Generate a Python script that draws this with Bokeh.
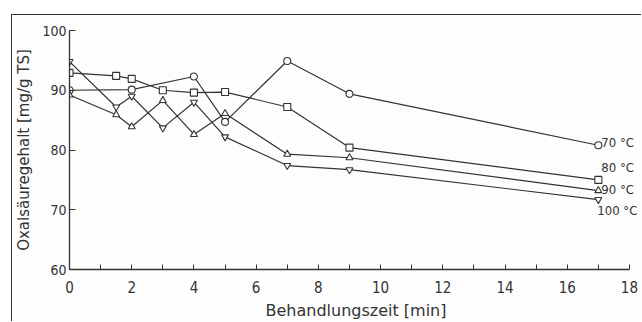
from bokeh.plotting import figure
from bokeh.models import Range1d, FixedTicker, ColumnDataSource
from bokeh.core.properties import value
from bokeh.embed import file_html
from bokeh.resources import INLINE

# ---- data ----
x_70 = [0, 2, 4, 5, 7, 9, 17]
y_70 = [90.0, 90.1, 92.3, 84.7, 94.9, 89.4, 80.8]

x_80 = [0, 1.5, 2, 3, 4, 5, 7, 9, 17]
y_80 = [92.9, 92.4, 91.9, 90.0, 89.6, 89.7, 87.2, 80.4, 75.0]

x_90 = [0, 1.5, 2, 3, 4, 5, 7, 9, 17]
y_90 = [89.2, 85.9, 83.9, 88.3, 82.6, 86.1, 79.3, 78.7, 73.2]

x_100 = [0, 1.5, 2, 3, 4, 5, 7, 9, 17]
y_100 = [94.8, 87.2, 89.0, 83.7, 88.0, 82.2, 77.4, 76.7, 71.7]

series_labels = ["70 °C", "80 °C", "90 °C", "100 °C"]
x_ticks = [0, 2, 4, 6, 8, 10, 12, 14, 16, 18]
x_minor = [1, 3, 5, 7, 9, 11, 13, 15, 17]
y_ticks = [60, 70, 80, 90, 100]

INK = "#333333"
FONT = "DejaVu Sans"
NARROW = "DejaVu Sans Condensed"

p = figure(width=630, height=307, output_backend="svg", toolbar_location=None,
           x_range=Range1d(0, 18.42), y_range=Range1d(60, 100),
           min_border_left=57, min_border_right=0, min_border_top=15, min_border_bottom=51,
           background_fill_color="#fdfdfd", border_fill_color="#fdfdfd")
p.margin = (14, 0, 0, 11)
p.styles = {"border-left": "1px solid #333333", "border-top": "1px solid #333333"}
p.outline_line_color = None
p.grid.visible = False

# axes
xa = p.xaxis[0]
xa.bounds = (0, 18)
xa.ticker = FixedTicker(ticks=x_ticks, minor_ticks=x_minor)
xa.major_tick_in = 5
xa.major_tick_out = 0
xa.minor_tick_in = 5
xa.minor_tick_out = 0
xa.axis_label = "Behandlungszeit [min]"
ya = p.yaxis[0]
ya.bounds = (60, 100)
ya.ticker = FixedTicker(ticks=y_ticks)
ya.major_tick_in = 6
ya.major_tick_out = 0
ya.minor_tick_in = 0
ya.minor_tick_out = 0
ya.axis_label = "Oxalsäuregehalt [mg/g TS]"
for ax in (xa, ya):
    ax.axis_line_color = INK
    ax.axis_line_width = 1.3
    ax.major_tick_line_color = INK
    ax.minor_tick_line_color = INK
    ax.major_label_text_font = NARROW
    ax.major_label_text_font_size = "14px"
    ax.major_label_text_color = INK
    ax.axis_label_text_font = FONT
    ax.axis_label_text_font_style = "normal"
    ax.axis_label_text_color = INK
xa.major_label_text_font_size = "15px"
xa.axis_label_text_font_size = "16px"
ya.axis_label_text_font_size = "15px"
xa.major_label_standoff = 11
xa.axis_label_standoff = 5
ya.major_label_standoff = 3
ya.axis_label_standoff = 6

# series
specs = [
    (x_70, y_70, "circle"),
    (x_80, y_80, "square"),
    (x_90, y_90, "triangle"),
    (x_100, y_100, "inverted_triangle"),
]
for xs, ys, mk in specs:
    p.line(xs, ys, line_color=INK, line_width=1.2)
    p.scatter(xs, ys, marker=mk, size=7, fill_color="white", line_color=INK, line_width=1.1)

# end labels
end_x = [x_70[-1], x_80[-1], x_90[-1], x_100[-1]]
end_y = [y_70[-1], y_80[-1], y_90[-1], y_100[-1]]
lab_src = ColumnDataSource(dict(x=end_x, y=end_y, t=series_labels,
                                dx=[3, 3, 3, -1], dy=[-3, -12, -1, 11]))
p.text(x="x", y="y", text="t", source=lab_src, x_offset="dx", y_offset="dy",
       text_font=value(NARROW), text_font_size="13px", text_color=INK,
       text_baseline="middle", text_align="left")

open("out.html", "w").write(file_html(p, INLINE))
